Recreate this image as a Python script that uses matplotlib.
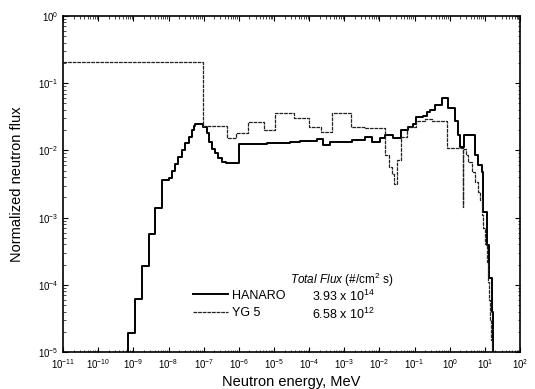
import numpy as np
import matplotlib
matplotlib.use("Agg")
import matplotlib.pyplot as plt
from matplotlib.ticker import LogLocator, LogFormatterMathtext, NullFormatter

plt.rcParams['font.family'] = ['Liberation Sans', 'DejaVu Sans']
plt.rcParams['mathtext.fontset'] = 'custom'
plt.rcParams['mathtext.rm'] = 'Liberation Sans'
plt.rcParams['mathtext.it'] = 'Liberation Sans:italic'

# HANARO: bin lower edges as log10(E/MeV), and group flux values
hanaro_logE = [-9.30, -9.16, -8.95, -8.76, -8.57, -8.38, -8.19, -8.00, -7.91, -7.81,
               -7.72, -7.62, -7.53, -7.43, -7.34, -7.29, -7.24, -7.10, -7.01, -6.91,
               -6.84, -6.77, -6.68, -6.58, -6.49, -6.36, -6.01, -5.68, -5.21, -4.54,
               -4.26, -3.78, -3.60, -3.40, -2.79, -2.41, -2.22, -1.98, -1.84, -1.62,
               -1.39, -1.18, -1.04, -0.96, -0.76, -0.65, -0.56, -0.42, -0.23, -0.04,
               0.15, 0.24, 0.29, 0.41, 0.72, 0.81, 0.91, 0.96, 1.05, 1.13,
               1.20, 1.23, 1.30]
hanaro_flux = [1e-6, 1.95e-5, 6.1e-5, 1.9e-4, 5.8e-4, 1.37e-3, 3.6e-3, 3.85e-3, 5.0e-3, 6.2e-3,
               8.0e-3, 1.0e-2, 1.3e-2, 1.6e-2, 2.0e-2, 2.3e-2, 2.5e-2, 2.45e-2, 2.25e-2, 1.8e-2,
               1.35e-2, 1.06e-2, 9.0e-3, 7.6e-3, 6.8e-3, 6.6e-3, 1.23e-2, 1.26e-2, 1.30e-2, 1.34e-2,
               1.38e-2, 1.50e-2, 1.20e-2, 1.34e-2, 1.42e-2, 1.57e-2, 1.34e-2, 1.52e-2, 1.69e-2, 1.52e-2,
               2.03e-2, 2.25e-2, 2.5e-2, 3.1e-2, 3.3e-2, 3.77e-2, 4.0e-2, 4.7e-2, 6.1e-2, 4.2e-2,
               2.7e-2, 1.7e-2, 1.13e-2, 1.7e-2, 8.6e-3, 6.0e-3, 4.8e-3, 1.2e-3, 3.9e-4, 1.25e-4,
               4.0e-5, 1e-6]

# YG 5: same layout (zero-width bin at 0.37 is the narrow spike)
yg5_logE = [-11.0, -7.01, -6.34, -6.08, -5.73, -5.28, -4.97, -4.43, -3.99, -3.67,
            -3.36, -2.81, -2.41, -1.84, -1.72, -1.65, -1.58, -1.51, -1.39, -1.21,
            -0.96, -0.70, -0.50, -0.08, 0.37, 0.37, 0.47, 0.53, 0.64, 0.72,
            0.81, 0.86, 0.91, 0.96, 1.01, 1.05, 1.10, 1.13, 1.15, 1.18,
            1.21, 1.30]
yg5_flux = [0.21, 0.023, 0.0155, 0.0184, 0.0267, 0.0201, 0.0365, 0.030, 0.022, 0.019,
            0.0365, 0.0225, 0.0212, 0.0085, 0.0057, 0.0045, 0.0032, 0.0072, 0.016, 0.0225,
            0.027, 0.029, 0.027, 0.011, 0.00145, 0.0105, 0.0085, 0.0068, 0.0048, 0.0034,
            0.0024, 0.0018, 0.0011, 7e-4, 4e-4, 2.2e-4, 1.1e-4, 6e-5, 3e-5, 1.5e-5,
            5e-6]

fig = plt.figure(figsize=(5.35, 3.89), dpi=100)
ax = fig.add_axes([0.118, 0.095, 0.854, 0.864])

ax.step(10 ** np.array(hanaro_logE), np.append(hanaro_flux, hanaro_flux[-1]),
        where='post', color='black', lw=1.4, label='HANARO')
ax.step(10 ** np.array(yg5_logE), np.append(yg5_flux, yg5_flux[-1]),
        where='post', color='#222222', lw=0.9, ls=(0, (3, 0.7)), label='YG 5')

ax.set_xscale('log')
ax.set_yscale('log')
ax.set_xlim(1e-11, 1e2)
ax.set_ylim(1e-5, 1)

ax.xaxis.set_major_locator(LogLocator(base=10, numticks=30))
ax.xaxis.set_major_formatter(LogFormatterMathtext())
ax.xaxis.set_minor_locator(LogLocator(base=10, subs=np.arange(2, 10), numticks=200))
ax.xaxis.set_minor_formatter(NullFormatter())
ax.yaxis.set_minor_locator(LogLocator(base=10, subs=np.arange(2, 10), numticks=50))
ax.yaxis.set_minor_formatter(NullFormatter())
ax.tick_params(which='both', direction='in', top=True, right=True, labelsize=7)
ax.tick_params(which='major', length=3.5, width=0.8)
ax.tick_params(which='minor', length=1.8, width=0.5)
for s in ax.spines.values():
    s.set_linewidth(1.2)

ax.set_xlabel('Neutron energy, MeV', fontsize=10.5, labelpad=3)
ax.set_ylabel('Normalized neutron flux', fontsize=10.5, labelpad=10)

ax.legend(loc='upper left', bbox_to_anchor=(0.284, 0.186), frameon=False,
          fontsize=9, handlelength=2.8, handletextpad=0.3, labelspacing=0.45,
          borderpad=0, borderaxespad=0)
ax.text(0.497, 0.216, r'$\it{Total\ Flux}$ (#/cm$^2$ s)', transform=ax.transAxes,
        fontsize=8.5, va='center', ha='left')
ax.text(0.544, 0.165, r'3.93 x 10$^{14}$', transform=ax.transAxes,
        fontsize=9, va='center', ha='left')
ax.text(0.544, 0.112, r'6.58 x 10$^{12}$', transform=ax.transAxes,
        fontsize=9, va='center', ha='left')

fig.savefig('out.png', dpi=100)
